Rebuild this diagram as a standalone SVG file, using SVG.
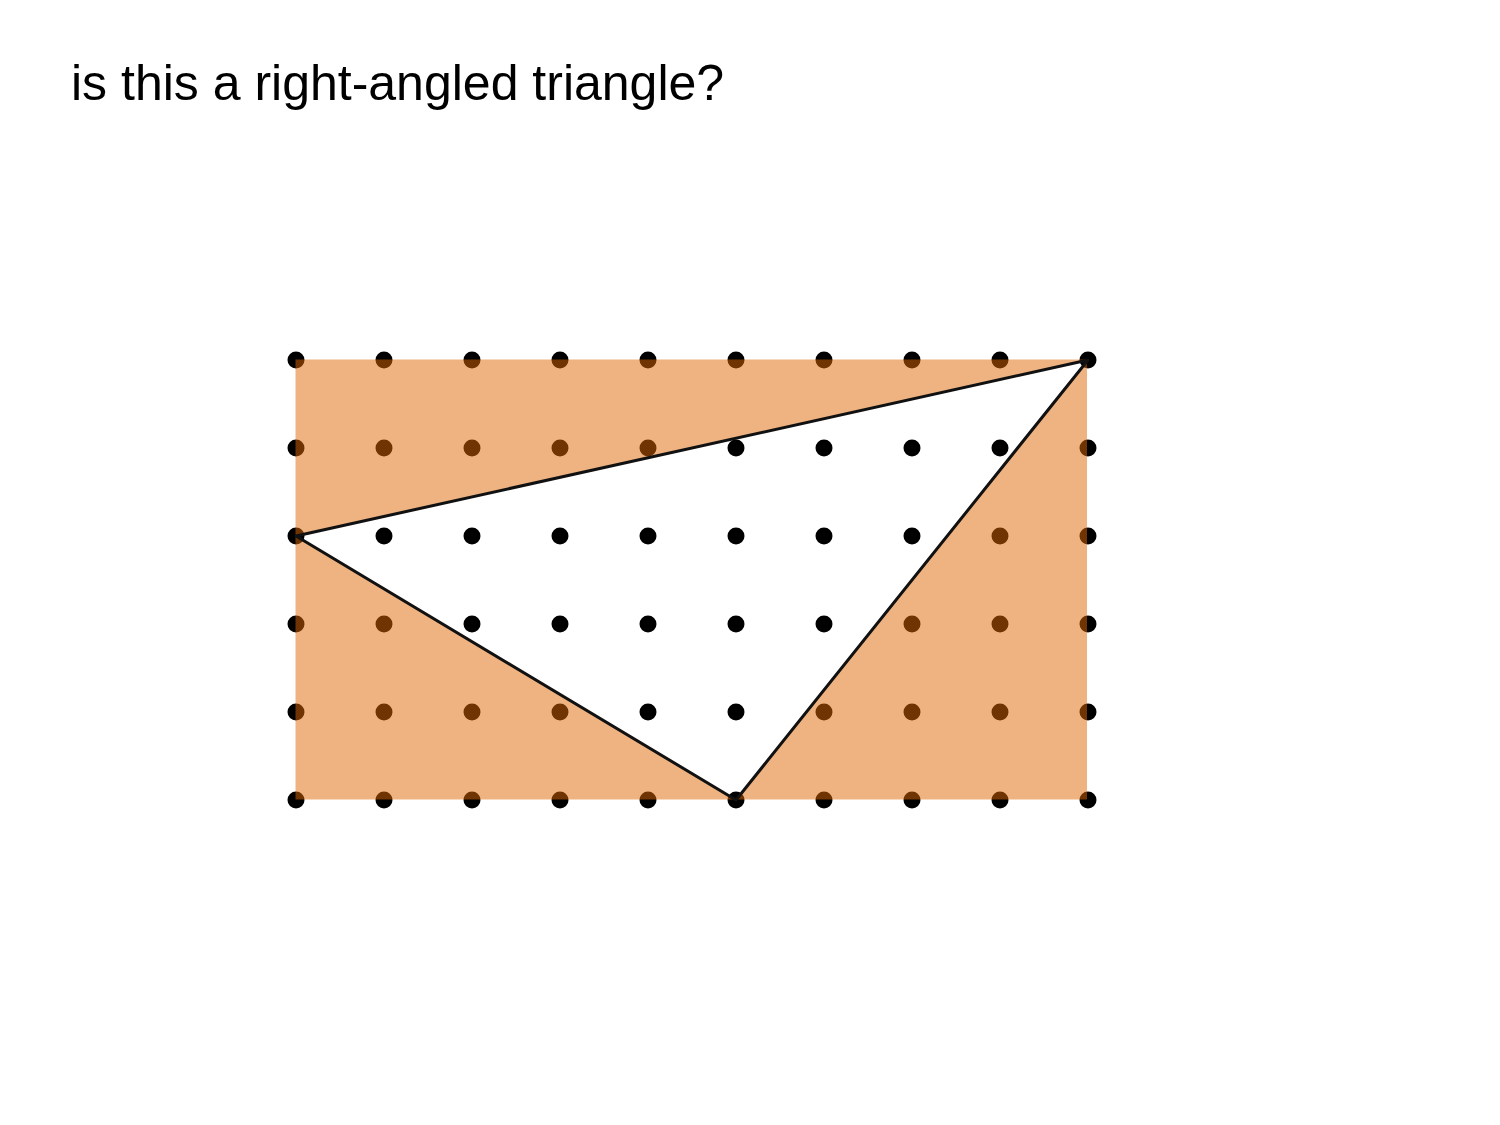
<svg xmlns="http://www.w3.org/2000/svg" width="1500" height="1125" viewBox="0 0 1500 1125">
<style>
.title{font-family:"Liberation Sans",Arial,sans-serif;font-size:50px;fill:#000}
.dot{fill:#000}
.shade{fill:#E06804;fill-opacity:0.5;stroke:none}
.tri{fill:none;stroke:#111;stroke-width:3;stroke-linejoin:round}
</style>
<rect width="1500" height="1125" fill="#fff"/>
<text class="title" x="71" y="100">is this a right-angled triangle?</text>
<g id="dots">
<g id="row1"><circle class="dot" cx="296" cy="360" r="8.5"/><circle class="dot" cx="384" cy="360" r="8.5"/><circle class="dot" cx="472" cy="360" r="8.5"/><circle class="dot" cx="560" cy="360" r="8.5"/><circle class="dot" cx="648" cy="360" r="8.5"/><circle class="dot" cx="736" cy="360" r="8.5"/><circle class="dot" cx="824" cy="360" r="8.5"/><circle class="dot" cx="912" cy="360" r="8.5"/><circle class="dot" cx="1000" cy="360" r="8.5"/><circle class="dot" cx="1088" cy="360" r="8.5"/></g>
<g id="row2"><circle class="dot" cx="296" cy="448" r="8.5"/><circle class="dot" cx="384" cy="448" r="8.5"/><circle class="dot" cx="472" cy="448" r="8.5"/><circle class="dot" cx="560" cy="448" r="8.5"/><circle class="dot" cx="648" cy="448" r="8.5"/><circle class="dot" cx="736" cy="448" r="8.5"/><circle class="dot" cx="824" cy="448" r="8.5"/><circle class="dot" cx="912" cy="448" r="8.5"/><circle class="dot" cx="1000" cy="448" r="8.5"/><circle class="dot" cx="1088" cy="448" r="8.5"/></g>
<g id="row3"><circle class="dot" cx="296" cy="536" r="8.5"/><circle class="dot" cx="384" cy="536" r="8.5"/><circle class="dot" cx="472" cy="536" r="8.5"/><circle class="dot" cx="560" cy="536" r="8.5"/><circle class="dot" cx="648" cy="536" r="8.5"/><circle class="dot" cx="736" cy="536" r="8.5"/><circle class="dot" cx="824" cy="536" r="8.5"/><circle class="dot" cx="912" cy="536" r="8.5"/><circle class="dot" cx="1000" cy="536" r="8.5"/><circle class="dot" cx="1088" cy="536" r="8.5"/></g>
<g id="row4"><circle class="dot" cx="296" cy="624" r="8.5"/><circle class="dot" cx="384" cy="624" r="8.5"/><circle class="dot" cx="472" cy="624" r="8.5"/><circle class="dot" cx="560" cy="624" r="8.5"/><circle class="dot" cx="648" cy="624" r="8.5"/><circle class="dot" cx="736" cy="624" r="8.5"/><circle class="dot" cx="824" cy="624" r="8.5"/><circle class="dot" cx="912" cy="624" r="8.5"/><circle class="dot" cx="1000" cy="624" r="8.5"/><circle class="dot" cx="1088" cy="624" r="8.5"/></g>
<g id="row5"><circle class="dot" cx="296" cy="712" r="8.5"/><circle class="dot" cx="384" cy="712" r="8.5"/><circle class="dot" cx="472" cy="712" r="8.5"/><circle class="dot" cx="560" cy="712" r="8.5"/><circle class="dot" cx="648" cy="712" r="8.5"/><circle class="dot" cx="736" cy="712" r="8.5"/><circle class="dot" cx="824" cy="712" r="8.5"/><circle class="dot" cx="912" cy="712" r="8.5"/><circle class="dot" cx="1000" cy="712" r="8.5"/><circle class="dot" cx="1088" cy="712" r="8.5"/></g>
<g id="row6"><circle class="dot" cx="296" cy="800" r="8.5"/><circle class="dot" cx="384" cy="800" r="8.5"/><circle class="dot" cx="472" cy="800" r="8.5"/><circle class="dot" cx="560" cy="800" r="8.5"/><circle class="dot" cx="648" cy="800" r="8.5"/><circle class="dot" cx="736" cy="800" r="8.5"/><circle class="dot" cx="824" cy="800" r="8.5"/><circle class="dot" cx="912" cy="800" r="8.5"/><circle class="dot" cx="1000" cy="800" r="8.5"/><circle class="dot" cx="1088" cy="800" r="8.5"/></g>
</g>
<path id="shading" class="shade" fill-rule="evenodd" d="M295.5 359.5 L1087 359.5 L1087 799.5 L295.5 799.5 Z M296 536 L1088 360 L736 800 Z"/>
<polygon id="triangle" class="tri" points="296,536 1088,360 736,800"/>
</svg>
